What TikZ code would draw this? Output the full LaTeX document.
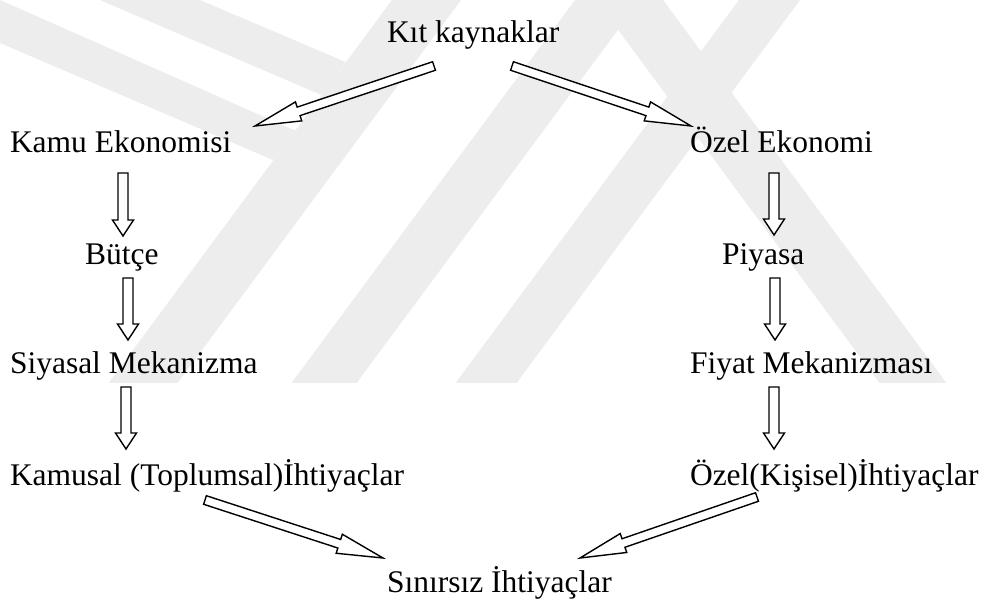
\documentclass[tikz,border=0pt]{standalone}
\usepackage{fontspec}
\setmainfont{Liberation Serif}
\usetikzlibrary{calc}
\definecolor{wmgray}{RGB}{237,237,237}
\tikzset{
  textlabel/.style={anchor=base west, inner sep=0pt, outer sep=0pt, font=\rmfamily\fontsize{31.5}{36}\selectfont},
  arrowline/.style={draw=black, fill=white, line width=1.4pt, line join=miter},
  wmband/.style={fill=wmgray, draw=none}
}
\newcommand\hollowarrow[5]{%
  \path ($(#2)!#5!(#1)$) coordinate (neck);
  \draw[arrowline] ($(#1)!#3!90:(#2)$) -- ($(neck)!#3!90:(#2)$) -- ($(neck)!#4!90:(#2)$) -- (#2)
     -- ($(neck)!#4!-90:(#2)$) -- ($(neck)!#3!-90:(#2)$) -- ($(#1)!#3!-90:(#2)$) -- cycle;
}
\begin{document}
\begin{tikzpicture}[x=1pt, y=-1pt]
\useasboundingbox (0,0) rectangle (987,604);
\fill[white] (0,0) rectangle (987,604);
% watermark
\begin{scope}
  \clip (0,0) rectangle (987,382);
  \fill[wmband] (392,0) -- (461,0) -- (165,400) -- (96,400) -- cycle;
  \fill[wmband] (575,0) -- (640,0) -- (344,400) -- (279,400) -- cycle;
  \fill[wmband] (739,0) -- (800,0) -- (504,400) -- (443,400) -- cycle;
  \fill[wmband] (596,0) -- (663,0) -- (959,400) -- (892,400) -- cycle;
  \fill[wmband] (0,0) -- (296,131) -- (273,160) -- (0,43) -- cycle;
  \fill[wmband] (100,0) -- (200,0) -- (345.6,62) -- (321.5,95) -- cycle;
\end{scope}
% texts
\node[textlabel] (kit) at (387,43) {Kıt kaynaklar};
\node[textlabel] (kamu) at (10,153) {Kamu Ekonomisi};
\node[textlabel] (butce) at (85,264) {Bütçe};
\node[textlabel] (siyasal) at (10,373) {Siyasal Mekanizma};
\node[textlabel] (kamusal) at (10,485) {Kamusal (Toplumsal)İhtiyaçlar};
\node[textlabel] (sinirsiz) at (387,592) {Sınırsız İhtiyaçlar};
\node[textlabel] (ozel) at (690,153) {Özel Ekonomi};
\node[textlabel] (piyasa) at (722,264) {Piyasa};
\node[textlabel] (fiyat) at (690,373) {Fiyat Mekanizması};
\node[textlabel] (ozelk) at (690,485) {Özel(Kişisel)İhtiyaçlar};
% arrow end points
\coordinate (v1s) at (123,173); \coordinate (v1e) at (123,236);
\coordinate (v2s) at (128,278); \coordinate (v2e) at (128,340);
\coordinate (v3s) at (126,387); \coordinate (v3e) at (126,449);
\coordinate (v4s) at (774,173); \coordinate (v4e) at (774,235);
\coordinate (v5s) at (775,278); \coordinate (v5e) at (775,340);
\coordinate (v6s) at (774,387); \coordinate (v6e) at (774,449);
\coordinate (d1s) at (434,66);  \coordinate (d1e) at (255,126);
\coordinate (d2s) at (512,66);  \coordinate (d2e) at (691,126);
\coordinate (d3s) at (205,500); \coordinate (d3e) at (383,558);
\coordinate (d4s) at (757,497); \coordinate (d4e) at (580,558);
% arrows
\hollowarrow{v1s}{v1e}{5pt}{10.5pt}{16pt}
\hollowarrow{v2s}{v2e}{5pt}{10.5pt}{16pt}
\hollowarrow{v3s}{v3e}{5pt}{10.5pt}{16pt}
\hollowarrow{v4s}{v4e}{5pt}{10.5pt}{16pt}
\hollowarrow{v5s}{v5e}{5pt}{10.5pt}{16pt}
\hollowarrow{v6s}{v6e}{5pt}{10.5pt}{16pt}
\hollowarrow{d1s}{d1e}{4.5pt}{10pt}{46pt}
\hollowarrow{d2s}{d2e}{4.5pt}{10pt}{46pt}
\hollowarrow{d3s}{d3e}{4.5pt}{10pt}{46pt}
\hollowarrow{d4s}{d4e}{4.5pt}{10pt}{46pt}
\end{tikzpicture}
\end{document}
